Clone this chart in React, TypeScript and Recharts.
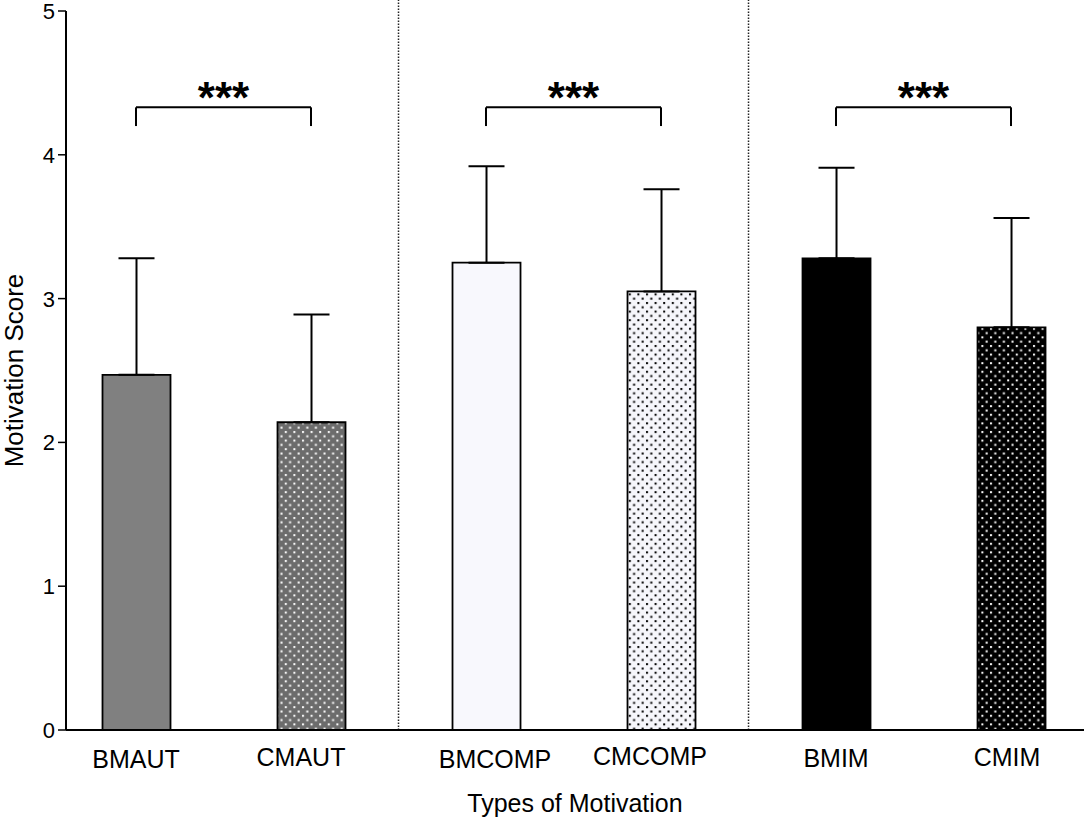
import React from 'react';
import { BarChart, Bar, XAxis, YAxis, ErrorBar, Cell, ReferenceLine, ReferenceDot } from 'recharts';

const categories = ['BMAUT', 'CMAUT', 'BMCOMP', 'CMCOMP', 'BMIM', 'CMIM'];
const means = [2.47, 2.14, 3.25, 3.05, 3.28, 2.8];
const sds = [0.81, 0.75, 0.67, 0.71, 0.63, 0.76];
const yTicks = [0, 1, 2, 3, 4, 5];
const groupDividers = [1.5, 3.5];
const bracketStarts = [0, 2, 4];
const bracketEnds = [1, 3, 5];
const bracketTop = 4.33;
const bracketFoot = 4.2;
const sigLabels = ['***', '***', '***'];

const barFills = ['#808080', 'url(#dotGray)', '#f8f8fd', 'url(#dotLight)', '#000000', 'url(#dotBlack)'];
const tickShiftX = [0, -10, 9, -11, 0, -4];
const tickShiftY = [1, -1, 1, -2, 0, -1];

const data = categories.map((name, i) => ({ idx: i, name, mean: means[i], sd: sds[i] }));

const FONT = '"Liberation Sans", Arial, sans-serif';

function DotPattern({ id, base, dot }: { id: string; base: string; dot: string }) {
  const s = 8.6;
  return (
    <pattern id={id} patternUnits="userSpaceOnUse" width={s} height={s}>
      <rect x={0} y={0} width={s} height={s} fill={base} />
      <rect x={1} y={1} width={2} height={2} fill={dot} />
      <rect x={1 + s / 2} y={1 + s / 2} width={2} height={2} fill={dot} />
    </pattern>
  );
}

function CategoryTick(props: any) {
  const { x, y, payload } = props;
  const i = payload.value as number;
  return (
    <text
      x={x + (tickShiftX[i] ?? 0)}
      y={y + (tickShiftY[i] ?? 0)}
      dy="0.71em"
      textAnchor="middle"
      fill="#000"
      fontSize={25}
      fontFamily={FONT}
    >
      {categories[i] ?? ''}
    </text>
  );
}

function ValueTick(props: any) {
  const { x, y, payload } = props;
  return (
    <text x={x} y={y} dy="0.36em" textAnchor="end" fill="#000" fontSize={22} fontFamily={FONT}>
      {String(payload.value)}
    </text>
  );
}

export default function App() {
  return (
    <div style={{ position: 'absolute', left: 0, top: 0, width: 1084, height: 823, background: '#fff' }}>
      <svg width={0} height={0} style={{ position: 'absolute' }}>
        <defs>
          <DotPattern id="dotGray" base="#6c6c6c" dot="#ffffff" />
          <DotPattern id="dotLight" base="#f6f6fb" dot="#000000" />
          <DotPattern id="dotBlack" base="#000000" dot="#ffffff" />
        </defs>
      </svg>
      <BarChart
        width={1084}
        height={823}
        data={data}
        margin={{ top: 11, right: 0, bottom: 0, left: 0 }}
        style={{ fontFamily: FONT }}
      >
        <XAxis
          dataKey="idx"
          type="number"
          domain={[-0.4, 5.417]}
          allowDataOverflow
          ticks={categories.map((_, i) => i)}
          tickLine={false}
          tickSize={0}
          tickMargin={19}
          height={93}
          axisLine={{ stroke: '#000', strokeWidth: 2 }}
          tick={<CategoryTick />}
          label={{
            value: 'Types of Motivation',
            position: 'insideBottom',
            offset: 11,
            fill: '#000',
            fontSize: 25,
            fontFamily: FONT,
          }}
        />
        <YAxis
          type="number"
          domain={[0, 5]}
          ticks={yTicks}
          width={66}
          tickSize={8}
          tickMargin={3}
          axisLine={{ stroke: '#000', strokeWidth: 2 }}
          tickLine={{ stroke: '#000', strokeWidth: 1.5 }}
          tick={<ValueTick />}
          label={{
            value: 'Motivation Score',
            angle: -90,
            position: 'insideLeft',
            offset: 14,
            fill: '#000',
            fontSize: 26,
            fontFamily: FONT,
            style: { textAnchor: 'middle' },
          }}
        />
        {groupDividers.map((x) => (
          <ReferenceLine
            key={'div' + x}
            segment={[{ x, y: 0 }, { x, y: 5.08 }]}
            ifOverflow="visible"
            stroke="#222"
            strokeWidth={1.5}
            strokeDasharray="1.5 1.5"
          />
        ))}
        <Bar dataKey="mean" barSize={68} stroke="#000" strokeWidth={1.8} isAnimationActive={false}>
          {data.map((d, i) => (
            <Cell key={d.name} fill={barFills[i]} />
          ))}
          <ErrorBar
            dataKey={(d: any) => [0, d.sd]}
            width={18}
            stroke="#000"
            strokeWidth={2}
            direction="y"
          />
        </Bar>
        {bracketStarts.map((s, i) => (
          <ReferenceLine
            key={'bt' + i}
            segment={[{ x: s, y: bracketTop }, { x: bracketEnds[i], y: bracketTop }]}
            ifOverflow="visible"
            stroke="#000"
            strokeWidth={2}
          />
        ))}
        {bracketStarts.map((s, i) => (
          <ReferenceLine
            key={'bl' + i}
            segment={[{ x: s, y: bracketTop }, { x: s, y: bracketFoot }]}
            ifOverflow="visible"
            stroke="#000"
            strokeWidth={2}
          />
        ))}
        {bracketEnds.map((e, i) => (
          <ReferenceLine
            key={'br' + i}
            segment={[{ x: e, y: bracketTop }, { x: e, y: bracketFoot }]}
            ifOverflow="visible"
            stroke="#000"
            strokeWidth={2}
          />
        ))}
        {bracketStarts.map((s, i) => (
          <ReferenceDot
            key={'st' + i}
            x={(s + bracketEnds[i]) / 2}
            y={bracketTop}
            r={0}
            ifOverflow="visible"
            shape={(p: any) => (
              <text
                x={p.cx}
                y={p.cy + 6}
                textAnchor="middle"
                fontFamily={FONT}
                fontWeight="bold"
                fontSize={44}
                fill="#000"
              >
                {sigLabels[i]}
              </text>
            )}
          />
        ))}
      </BarChart>
    </div>
  );
}
